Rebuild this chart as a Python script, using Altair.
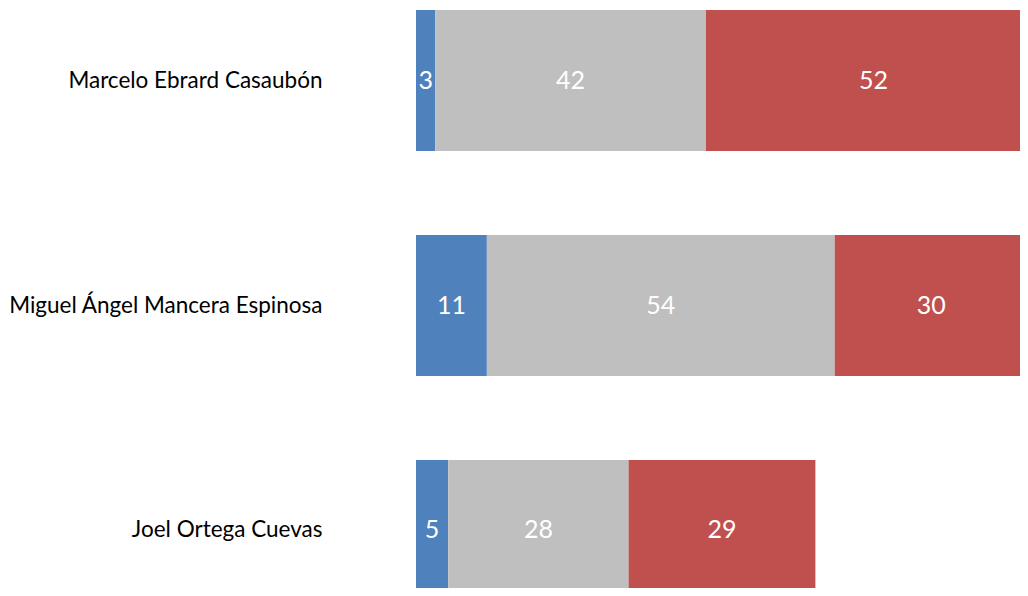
import altair as alt
import pandas as pd

names = ["Marcelo Ebrard Casaubón", "Miguel Ángel Mancera Espinosa", "Joel Ortega Cuevas"]
groups = ["A", "B", "C"]
colors = ["#4F81BD", "#BFBFBF", "#C0504D"]
vals_a = [3, 11, 5]
vals_b = [42, 54, 28]
vals_c = [52, 30, 29]

rows = []
for i, n in enumerate(names):
    for g, v in zip(groups, [vals_a[i], vals_b[i], vals_c[i]]):
        rows.append({"name": n, "group": g, "value": v, "order": groups.index(g)})
df = pd.DataFrame(rows)

base = alt.Chart(df).transform_stack(
    stack="value", groupby=["name"], as_=["v0", "v1"], sort=[alt.SortField("order")]
).transform_calculate(mid="(datum.v0 + datum.v1) / 2")

yscale = alt.Scale(paddingInner=0.373, paddingOuter=0.009, range=[0, 595])

yenc = alt.Y(
    "name:N",
    sort=names,
    scale=yscale,
    axis=alt.Axis(
        title=None, domain=False, ticks=False, labelPadding=94,
        labelFont="Lato", labelFontSize=22.5, labelColor="#000000", labelLimit=400,
    ),
)

xscale = alt.Scale(domain=[0, 93.76], nice=False, zero=True)

bars = base.mark_bar(clip=True).encode(
    x=alt.X("v0:Q", scale=xscale, axis=None),
    x2="v1:Q",
    y=yenc,
    color=alt.Color("group:N", scale=alt.Scale(domain=groups, range=colors), legend=None),
)

texts = base.mark_text(font="Lato", fontSize=25, color="white", align="center", baseline="middle").encode(
    x=alt.X("mid:Q", scale=xscale, axis=None),
    y=alt.Y("name:N", sort=names),
    text="value:Q",
)

chart = alt.layer(bars, texts).properties(
    width=604, height=580,
    autosize=alt.AutoSizeParams(type="none"),
    padding={"left": 408, "top": 0, "right": 0, "bottom": 0},
).configure_view(stroke=None)

chart.save("out.html", embed_options={"renderer": "svg", "actions": False})
